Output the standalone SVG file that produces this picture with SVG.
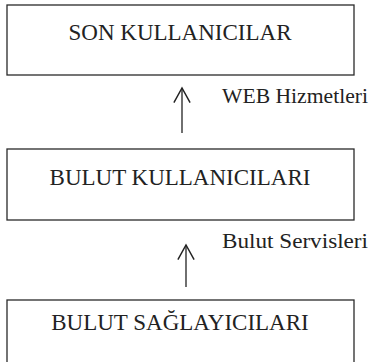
<svg xmlns="http://www.w3.org/2000/svg" width="380" height="362" viewBox="0 0 380 362">
  <style>
    .box { fill: #ffffff; stroke: #2a2a2a; stroke-width: 1.3; }
    .title { font-family: "Liberation Serif", "Times New Roman", serif; font-size: 23px; fill: #222222; text-anchor: middle; }
    .label { font-family: "Liberation Serif", "Times New Roman", serif; font-size: 22px; fill: #222222; }
    .link { fill: none; stroke: #222222; stroke-width: 1.3; }
  </style>
  <defs>
    <!-- open chevron head, tip on the +x axis so orient="auto" follows the line -->
    <marker id="open-arrow" markerUnits="userSpaceOnUse" markerWidth="18" markerHeight="18" refX="14" refY="8" orient="auto" viewBox="0 0 16 16">
      <path d="M1,0.8 L14,8 L1,15.2" fill="none" stroke="#222222" stroke-width="1.3"/>
    </marker>
  </defs>
  <rect width="380" height="362" fill="#ffffff"/>

  <g id="son-kullanicilar">
    <rect class="box" x="7" y="5" width="347" height="70"/>
    <text class="title" x="180" y="40">SON KULLANICILAR</text>
  </g>

  <g id="bulut-kullanicilari">
    <rect class="box" x="7" y="149" width="347" height="71"/>
    <text class="title" x="180" y="185">BULUT KULLANICILARI</text>
  </g>

  <g id="bulut-saglayicilari">
    <rect class="box" x="7" y="300" width="347" height="80"/>
    <text class="title" x="180" y="330">BULUT SAĞLAYICILARI</text>
  </g>

  <g id="connectors">
    <line class="link" x1="182" y1="133" x2="182" y2="88" marker-end="url(#open-arrow)"/>
    <text class="label" x="222" y="103" textLength="146" lengthAdjust="spacingAndGlyphs">WEB Hizmetleri</text>
    <line class="link" x1="186" y1="287" x2="186" y2="245" marker-end="url(#open-arrow)"/>
    <text class="label" x="222" y="248" textLength="146" lengthAdjust="spacingAndGlyphs">Bulut Servisleri</text>
  </g>
</svg>
